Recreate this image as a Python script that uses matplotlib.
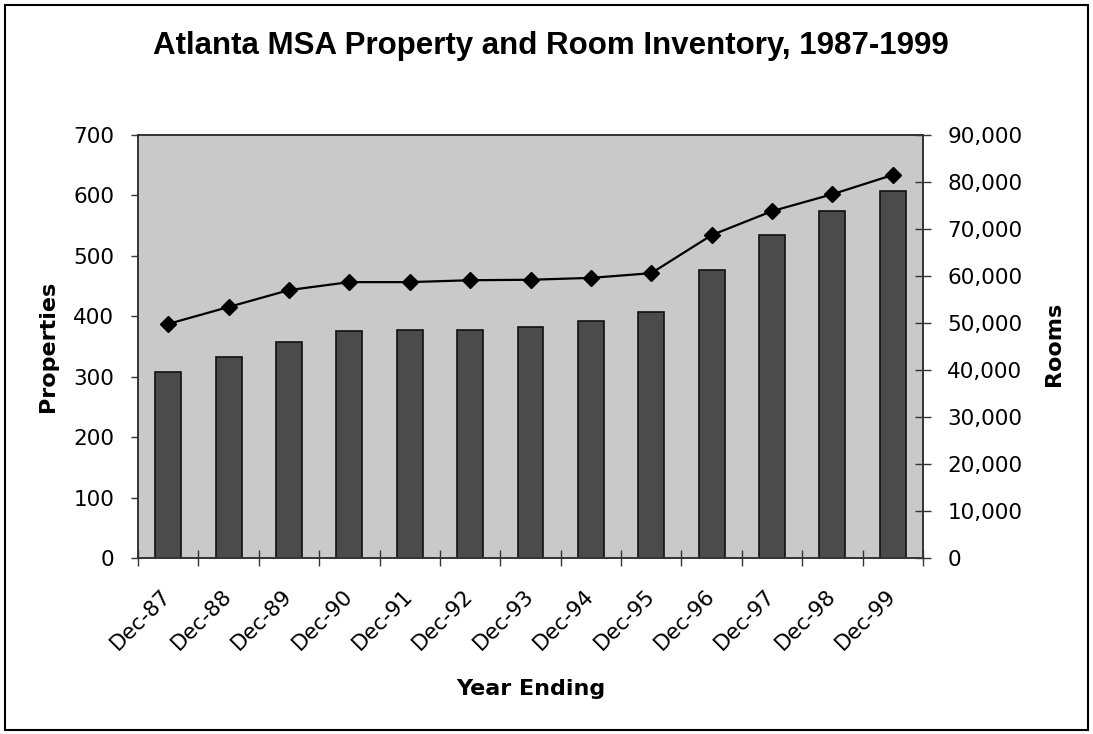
import matplotlib
matplotlib.use("Agg")
from matplotlib import pyplot as plt
from matplotlib.patches import Rectangle

years = ['Dec-87', 'Dec-88', 'Dec-89', 'Dec-90', 'Dec-91', 'Dec-92', 'Dec-93',
         'Dec-94', 'Dec-95', 'Dec-96', 'Dec-97', 'Dec-98', 'Dec-99']
properties = [307, 333, 358, 375, 378, 378, 382, 393, 407, 477, 535, 575, 608]
rooms = [49800, 53400, 57000, 58700, 58700, 59100, 59200, 59600, 60600,
         68700, 73800, 77400, 81500]

W, H = 1093, 734
fig = plt.figure(figsize=(W / 100, H / 100), dpi=100)
fig.patch.set_facecolor('white')

# plot area in pixels: x 138..923, y 135..558
ax = fig.add_axes([138 / W, 1 - 558 / H, 785 / W, 423 / H])
ax.set_facecolor('#c9c9c9')

x = list(range(len(years)))
ax.bar(x, properties, width=0.43, color='#4b4b4b', edgecolor='#111111',
       linewidth=1.2, zorder=2)
ax.set_xlim(-0.5, len(years) - 0.5)
ax.set_ylim(0, 700)
ax.set_yticks(range(0, 701, 100))

ax.set_xticks(x)
ax.set_xticklabels(years, rotation=45, ha='right', va='center',
                   rotation_mode='anchor')
ax.set_xticks([i - 0.5 for i in range(len(years) + 1)], minor=True)
ax.tick_params(axis='x', which='major', length=0, pad=25, labelsize=15.5)
ax.tick_params(axis='x', which='minor', direction='inout', length=12,
               width=1, color='#333333')
ax.tick_params(axis='y', direction='out', length=5, width=1, pad=12,
               labelsize=15.5, color='#333333')

for s in ax.spines.values():
    s.set_color('#333333')
    s.set_linewidth(1.2)

ax2 = ax.twinx()
ax2.plot(x, rooms, color='black', linewidth=1.6, marker='D', markersize=8.5,
         zorder=3)
ax2.set_ylim(0, 90000)
ax2.set_yticks(range(0, 90001, 10000))
ax2.set_yticklabels(['{:,}'.format(v) for v in range(0, 90001, 10000)])
ax2.tick_params(axis='y', direction='inout', length=11, width=1, pad=12,
                labelsize=15.5, color='#333333')
for s in ax2.spines.values():
    s.set_color('#333333')
    s.set_linewidth(1.2)

fig.text(551 / W, 1 - 46 / H, 'Atlanta MSA Property and Room Inventory, 1987-1999',
         ha='center', va='center', fontsize=22.5, fontweight='bold',
         family='Liberation Sans')
fig.text(48 / W, 1 - 346 / H, 'Properties', ha='center', va='center',
         rotation=90, fontsize=16, fontweight='bold')
fig.text(1054 / W, 1 - 344 / H, 'Rooms', ha='center', va='center',
         rotation=90, fontsize=16, fontweight='bold')
fig.text(531 / W, 1 - 689 / H, 'Year Ending', ha='center', va='center',
         fontsize=16, fontweight='bold')

# chart border
fig.patches.append(Rectangle((5 / W, 4 / H), 1083 / W, 725 / H,
                             transform=fig.transFigure, fill=False,
                             edgecolor='black', linewidth=1.5))

plt.savefig('out.png', dpi=100)
